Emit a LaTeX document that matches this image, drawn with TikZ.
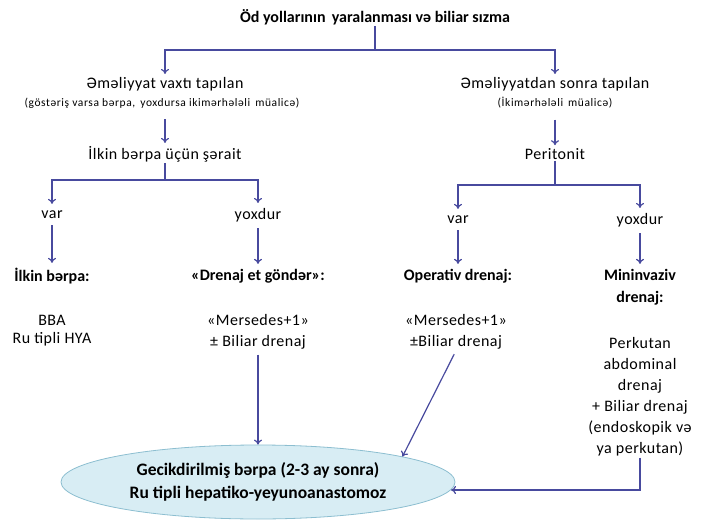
\documentclass[tikz,border=0pt]{standalone}
\usepackage{fontspec}
\setmainfont{Carlito}
\newfontfamily\widefont[LetterSpace=3]{Carlito}
\newfontfamily\notefont[LetterSpace=5]{Carlito}
\usepackage{tikz}
\usetikzlibrary{arrows.meta,shapes.geometric}
\definecolor{linkblue}{RGB}{72,74,158}
\definecolor{ovalfill}{RGB}{216,237,244}
\definecolor{ovaldraw}{RGB}{140,190,208}

\begin{document}
\begin{tikzpicture}[x=1pt, y=-1pt, font=\widefont\fontsize{16}{20}\selectfont,
    txt/.style={inner sep=1pt, align=center},
    hd/.style={txt, font=\fontsize{16}{22}\selectfont\bfseries},
    note/.style={txt, font=\notefont\fontsize{11.5}{12}\selectfont},
    link/.style={draw=linkblue, line width=1.2pt},
    arr/.style={link, -{To[length=5pt,width=8pt]}}]
\useasboundingbox (0,0) rectangle (706,521);

\node[hd] (z_top) at (375,17) {Öd yollarının\, yaralanması və biliar sızma};
\node[txt] (z_op) at (165,84) {Əməliyyat vaxtı tapılan};
\node[note] (z_op_n) at (162,103) {(göstəriş varsa bərpa,\, yoxdursa ikimərhələli\, müalicə)};
\node[txt] (z_post) at (555,84) {Əməliyyatdan sonra tapılan};
\node[note] (z_post_n) at (555,103) {(İkimərhələli\, müalicə)};
\node[txt] (z_cond) at (165,154) {İlkin bərpa üçün şərait};
\node[txt] (z_perit) at (555,154) {Peritonit};

\node[txt] (z_lvar) at (52,215) {var};
\node[txt] (z_lyox) at (258,215) {yoxdur};
\node[txt] (z_rvar) at (458,220) {var};
\node[txt] (z_ryox) at (640,220) {yoxdur};

\node[hd] (z_lvar_h) at (52,276) {İlkin bərpa:};
\node[hd] (z_lyox_h) at (258,276) {«Drenaj et göndər»:};
\node[hd] (z_rvar_h) at (458,276) {Operativ drenaj:};
\node[hd] (z_ryox_h) at (640,287) {Mininvaziv\\drenaj:};

\node[txt, font=\widefont\fontsize{16}{18}\selectfont] (z_lvar_b) at (52,331) {BBA\\Ru tipli HYA};
\node[txt, font=\widefont\fontsize{16}{21}\selectfont] (z_lyox_b) at (258,332) {«Mersedes+1»\\± Biliar drenaj};
\node[txt, font=\widefont\fontsize{16}{21}\selectfont] (z_rvar_b) at (456,332) {«Mersedes+1»\\±Biliar drenaj};
\node[txt, font=\widefont\fontsize{16}{21}\selectfont] (z_ryox_b) at (640,397) {Perkutan\\abdominal\\drenaj\\+ Biliar drenaj\\(endoskopik və\\ya perkutan)};

\node[ellipse, draw=ovaldraw, fill=ovalfill, line width=0.8pt, minimum width=394pt, minimum height=74pt,
    align=center, font=\fontsize{17.5}{23}\selectfont\bfseries] (z_E) at (258,482)
    {Gecikdirilmiş bərpa (2-3 ay sonra)\\Ru tipli hepatiko-yeyunoanastomoz};

\coordinate (s_top) at (375,50);
\coordinate (s_l) at (165,180);
\coordinate (s_r) at (555,185);
\coordinate (e_in) at (451,490);

\draw[link] (z_top) -- (s_top);
\draw[arr, shorten >=2pt] (s_top) -| (z_op);
\draw[arr, shorten >=2pt] (s_top) -| (z_post);
\draw[arr, shorten <=10pt, shorten >=2pt] (z_cond |- z_op_n.south) -- (z_cond);
\draw[arr, shorten <=10pt, shorten >=2pt] (z_post_n) -- (z_perit);
\draw[link] (z_cond) -- (s_l);
\draw[arr, shorten >=6pt] (s_l) -| (z_lvar);
\draw[arr, shorten >=4pt] (s_l) -| (z_lyox);
\draw[link] (z_perit) -- (s_r);
\draw[arr, shorten >=6pt] (s_r) -| (z_rvar);
\draw[arr, shorten >=4pt] (s_r) -| (z_ryox);

\path[arr, shorten <=5pt, shorten >=4pt]
    (z_lvar) edge (z_lvar_h)
    (z_lyox) edge (z_lyox_h)
    (z_rvar) edge (z_rvar_h)
    (z_ryox) edge (z_ryox_h);
\draw[arr, shorten <=4pt] (z_lyox_b) -- (z_E);
\draw[arr, shorten <=4pt] (z_rvar_b.south) -- (z_E.10);
\draw[arr] (z_ryox_b) |- (e_in);
\end{tikzpicture}
\end{document}
